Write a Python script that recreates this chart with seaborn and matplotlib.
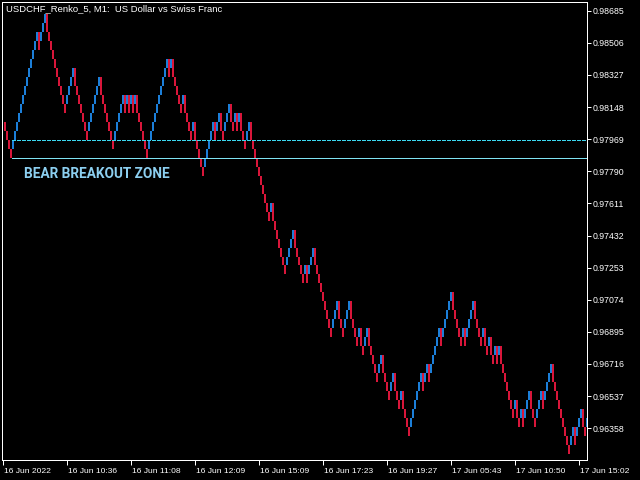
import matplotlib
matplotlib.use("Agg")
import matplotlib.pyplot as plt
import matplotlib.transforms as mtransforms
import numpy as np
import pandas as pd
import seaborn as sns

# Renko bricks as runs: positive = consecutive up bricks, negative = consecutive down bricks
brick_runs = [-4, 13, -1, 3, -10, 4, -7, 6, -7, 5, -1, 1, -1, 1, -1, 1, -6, 10, -1, 1,
              -5, 1, -4, 1, -5, 5, -1, 2, -2, 3, -2, 1, -1, 1, -3, 2, -10, 1, -7, 4,
              -5, 1, -1, 3, -9, 3, -3, 3, -4, 1, -2, 2, -5, 2, -4, 2, -3, 1, -4, 6,
              -1, 2, -1, 5, -1, 5, -5, 1, -1, 4, -4, 1, -2, 1, -2, 1, -1, 1, -7, 1,
              -2, 1, -1, 3, -3, 3, -1, 4, -9, 2, -1, 3, -2, 1]
brick_size = 0.0005
first_open = 0.98065

price_ticks = [0.98685, 0.98506, 0.98327, 0.98148, 0.97969, 0.97790, 0.97611,
               0.97432, 0.97253, 0.97074, 0.96895, 0.96716, 0.96537, 0.96358]
time_labels = ["16 Jun 2022", "16 Jun 10:36", "16 Jun 11:08", "16 Jun 12:09",
               "16 Jun 15:09", "16 Jun 17:23", "16 Jun 19:27", "17 Jun 05:43",
               "17 Jun 10:50", "17 Jun 15:02"]
time_label_bars = [-1, 31, 63, 95, 127, 159, 191, 223, 255, 287]

zone_upper = 0.97965   # dashed level
zone_lower = 0.97865   # solid level
zone_start_bar = 3.75

title_text = "USDCHF_Renko_5, M1:  US Dollar vs Swiss Franc"
zone_text = "BEAR BREAKOUT ZONE"

palette = {"up": "#2196FF", "down": "#FF1A45"}

# Build one vertical bar (low -> high) per brick, classic renko reversal rules
rows = []
prev_dir, close, idx = 0, 0, 0
for run in brick_runs:
    d = 1 if run > 0 else -1
    for _ in range(abs(run)):
        if prev_dir == 0 or d == prev_dir:
            o = close
        else:
            o = close - prev_dir
        c = o + d
        lo, hi = min(o, c), max(o, c)
        if prev_dir == 1 and d == -1:
            hi = close  # down reversal keeps the wick up to the last top
        name = "up" if d > 0 else "down"
        rows.append({"bar": idx, "dir": name, "price": first_open + lo * brick_size})
        rows.append({"bar": idx, "dir": name, "price": first_open + hi * brick_size})
        prev_dir, close = d, c
        idx += 1
bars = pd.DataFrame(rows)
n_bars = idx

sns.set_style("dark", {"axes.facecolor": "black", "figure.facecolor": "black"})
plt.rcParams["font.family"] = ["Liberation Sans", "DejaVu Sans"]

W, H = 640, 480
PX = 72 / 100  # one pixel in points
fig = plt.figure(figsize=(W / 100, H / 100), dpi=100, facecolor="black")
left_px, right_px, top_px, bottom_px = 2, 587, 2, 460
ax = fig.add_axes([left_px / W, 1 - bottom_px / H,
                   (right_px - left_px) / W, (bottom_px - top_px) / H])
ax.set_facecolor("black")

# two pixels per bar, bar centres on pixel centres
x_left = -1.25
x_right = x_left + (right_px - left_px) / 2.0

# each brick is a vertical segment from its low to its high
sns.lineplot(data=bars, x="bar", y="price", hue="dir", units="bar",
             estimator=None, sort=False, legend=False, palette=palette,
             linewidth=1.7 * PX, solid_capstyle="butt", ax=ax)

ax.set_xlim(x_left, x_right)
ax.set_ylim(0.961809, 0.987336)

# Breakout zone lines
ax.plot([zone_start_bar, x_right], [zone_upper, zone_upper], color="#3CD8F0",
        linewidth=1.0 * PX, dashes=(3, 2), antialiased=False)
ax.plot([zone_start_bar, x_right], [zone_lower, zone_lower], color="#7FE2F2",
        linewidth=1.0 * PX, antialiased=False)

# Frame
for sp in ax.spines.values():
    sp.set_visible(True)
    sp.set_color("white")
    sp.set_linewidth(1.0 * PX)

# Price axis on the right
ax.yaxis.tick_right()
ax.set_yticks(price_ticks)
ax.set_yticklabels([f"{p:.5f}" for p in price_ticks])
ax.tick_params(axis="y", colors="white", labelcolor="white", length=4 * PX,
               width=1.0 * PX, direction="out", pad=1, labelsize=6.3,
               right=True, left=False)

# Time axis
ax.set_xticks(time_label_bars)
ax.set_xticklabels(time_labels, ha="left")
ax.tick_params(axis="x", colors="white", labelcolor="white", length=5 * PX,
               width=1.0 * PX, direction="out", pad=2, labelsize=6.1, bottom=True)
offset = mtransforms.ScaledTranslation(1 / 100, 0, fig.dpi_scale_trans)
for lab in ax.get_xticklabels():
    lab.set_transform(lab.get_transform() + offset)

ax.set_xlabel("")
ax.set_ylabel("")
ax.grid(False)

fig.text(6 / W, 1 - 9 / H, title_text, color="white", fontsize=6.8,
         ha="left", va="center")
fig.text(24 / W, 1 - 174 / H, zone_text, color="#8CCFF0", fontsize=9.8,
         fontweight="bold", family=["Roboto", "DejaVu Sans"],
         ha="left", va="center")

fig.savefig("out.png", dpi=100, facecolor="black")
